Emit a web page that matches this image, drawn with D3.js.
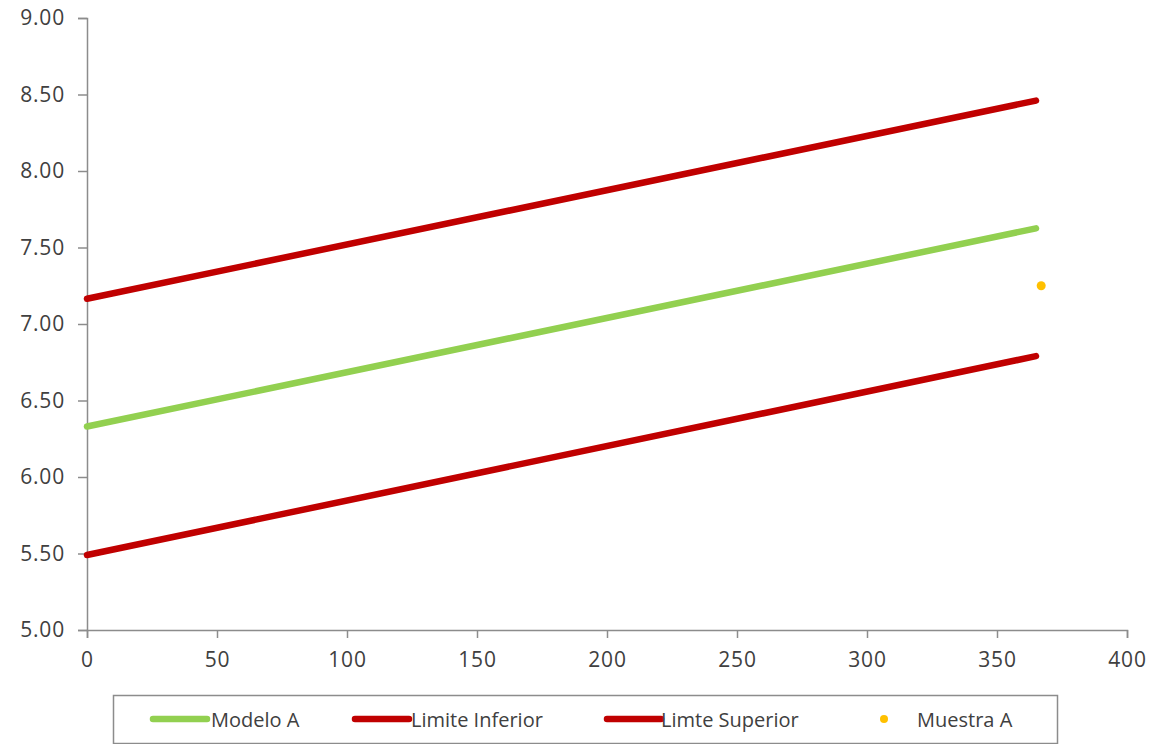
<!DOCTYPE html>
<html><head><meta charset="utf-8">
<script src="https://cdn.jsdelivr.net/npm/d3@7"></script>
<style>
body{margin:0;background:#fff;}
svg{font-family:"Open Sans",sans-serif;}
</style></head>
<body><svg id="c" width="1165" height="744"></svg>
<script>
const days = [0, 365];
const modeloA = [6.33, 7.625];
const limiteInferior = [5.49, 6.79];
const limiteSuperior = [7.165, 8.46];
const muestraX = [367];
const muestraA = [7.25];
const xTicks = [0,50,100,150,200,250,300,350,400];
const yTicks = [5,5.5,6,6.5,7,7.5,8,8.5,9];
const seriesNames = ["Modelo A","Limite Inferior","Limte Superior","Muestra A"];
const colors = ["#92D050","#C00000","#C00000","#FFC000"];

const svg = d3.select("#c");
const x = d3.scaleLinear().domain([0,400]).range([87,1127]);
const y = d3.scaleLinear().domain([5,9]).range([630,18]);
const axisColor = "#8c8c8c";

const gy = svg.append("g").attr("transform","translate(87,0)")
  .call(d3.axisLeft(y).tickValues(yTicks).tickFormat(d3.format(".2f")).tickSize(9).tickPadding(13));
const gx = svg.append("g").attr("transform","translate(0,630)")
  .call(d3.axisBottom(x).tickValues(xTicks).tickSize(8).tickPadding(14));
[gx,gy].forEach(g=>{
  g.attr("font-size",null);
  g.select(".domain").attr("stroke",axisColor).attr("stroke-width",1.5);
  g.selectAll(".tick line").attr("stroke",axisColor).attr("stroke-width",1.5);
  g.selectAll("text").attr("fill","#404040").style("font-size","21px").style("letter-spacing","0.8px").style("font-family","'Open Sans',sans-serif");
});

const line = d3.line().x((d,i)=>x(days[i])).y(d=>y(d));
[[modeloA,0],[limiteInferior,1],[limiteSuperior,2]].forEach(([arr,i])=>{
  svg.append("path").datum(arr).attr("d",line).attr("fill","none")
    .attr("stroke",colors[i]).attr("stroke-width",6.5).attr("stroke-linecap","round");
});
svg.selectAll(".pt").data(muestraA).enter().append("circle")
  .attr("cx",(d,i)=>x(muestraX[i])).attr("cy",d=>y(d)).attr("r",4.5).attr("fill",colors[3]);

// legend
svg.append("rect").attr("x",113.5).attr("y",695.5).attr("width",944).attr("height",48)
  .attr("fill","#fff").attr("stroke","#8c8c8c").attr("stroke-width",1.5);
const items = [{lx:150,tx:211},{lx:352,tx:411},{lx:604,tx:661},{lx:884,tx:917}];
items.forEach((it,i)=>{
  if(i<3){
    svg.append("line").attr("x1",it.lx+3).attr("x2",it.lx+57).attr("y1",719).attr("y2",719)
      .attr("stroke",colors[i]).attr("stroke-width",6.5).attr("stroke-linecap","round");
  } else {
    svg.append("circle").attr("cx",it.lx).attr("cy",719).attr("r",4).attr("fill",colors[i]);
  }
  svg.append("text").attr("x",it.tx).attr("y",727).attr("fill","#404040")
    .style("font-size","20px").text(seriesNames[i]);
});
</script></body></html>
